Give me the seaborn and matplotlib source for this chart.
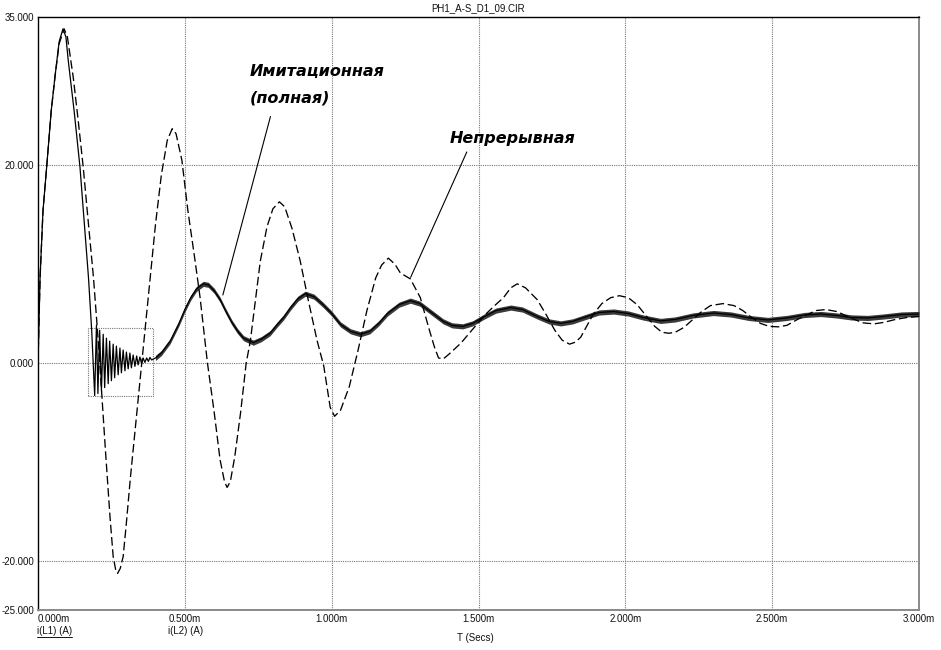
import numpy as np
import pandas as pd
import matplotlib
matplotlib.use("Agg")
import matplotlib.pyplot as plt
from matplotlib.lines import Line2D
from matplotlib.patches import Rectangle
import seaborn as sns

# ---------------- data (time in ms, current in A) ----------------
title = "PH1_A-S_D1_09.CIR"
x_ticks = [0.0, 0.5, 1.0, 1.5, 2.0, 2.5, 3.0]
x_tick_labels = ["0.000m", "0.500m", "1.000m", "1.500m", "2.000m", "2.500m", "3.000m"]
y_ticks = [-25, -20, 0, 20, 35]
y_tick_labels = ["-25.000", "-20.000", "0.000", "20.000", "35.000"]
series_names = ["i(L1) (A)", "i(L2) (A)"]
label_sim = "Имитационная\n(полная)"
label_cont = "Непрерывная"

# dashed curve "Непрерывная"
cont_t = [0.000, 0.007, 0.017, 0.030, 0.045, 0.058, 0.072, 0.089, 0.100, 0.120,
          0.137, 0.154, 0.172, 0.189, 0.206, 0.230, 0.245, 0.256, 0.265, 0.271,
          0.280, 0.290, 0.300, 0.315, 0.330, 0.345, 0.355, 0.380, 0.400, 0.420,
          0.440, 0.457, 0.470, 0.490, 0.510, 0.535, 0.552, 0.577, 0.600, 0.620,
          0.635, 0.644, 0.655, 0.670, 0.690, 0.709, 0.723, 0.757, 0.780, 0.800,
          0.822, 0.840, 0.865, 0.893, 0.920, 0.950, 0.973, 0.995, 1.010, 1.030,
          1.060, 1.090, 1.120, 1.150, 1.170, 1.193, 1.215, 1.234, 1.268, 1.302,
          1.330, 1.350, 1.364, 1.380, 1.400, 1.440, 1.480, 1.520, 1.555, 1.585,
          1.610, 1.632, 1.660, 1.700, 1.730, 1.760, 1.785, 1.810, 1.830, 1.848,
          1.870, 1.890, 1.920, 1.950, 1.980, 2.010, 2.040, 2.070, 2.100, 2.125,
          2.148, 2.170, 2.200, 2.230, 2.260, 2.290, 2.332, 2.370, 2.400, 2.430,
          2.460, 2.490, 2.520, 2.550, 2.580, 2.620, 2.650, 2.683, 2.720, 2.750,
          2.780, 2.810, 2.847, 2.880, 2.920, 2.960, 3.000]
cont_y = [0.0, 8.6, 15.4, 20.0, 25.5, 29.0, 32.3, 33.8, 33.0, 28.9,
          24.5, 19.8, 14.0, 8.6, 1.9, -9.0, -15.5, -19.6, -21.0, -21.3,
          -20.8, -19.6, -16.5, -11.5, -7.0, -2.5, 0.5, 8.0, 14.0, 19.0,
          22.5, 23.7, 23.2, 20.5, 15.5, 10.3, 6.6, 0.0, -5.0, -9.8,
          -12.0, -12.6, -12.0, -9.5, -5.0, 0.0, 2.2, 10.3, 13.8, 15.6,
          16.3, 15.8, 13.6, 10.3, 6.4, 2.3, -0.3, -4.5, -5.4, -4.8,
          -2.4, 1.3, 5.3, 8.6, 9.9, 10.6, 10.0, 9.1, 8.5, 6.6,
          3.6, 1.6, 0.5, 0.4, 0.9, 2.0, 3.4, 4.8, 5.8, 6.6,
          7.6, 8.0, 7.6, 6.4, 4.9, 3.3, 2.3, 1.9, 2.1, 2.6,
          3.8, 4.9, 6.0, 6.6, 6.8, 6.6, 5.9, 4.8, 3.7, 3.1,
          3.0, 3.1, 3.6, 4.4, 5.2, 5.8, 6.0, 5.8, 5.3, 4.6,
          4.0, 3.7, 3.65, 3.8, 4.3, 4.9, 5.3, 5.4, 5.2, 4.8,
          4.4, 4.05, 3.95, 4.1, 4.4, 4.6, 4.7]

# solid curve "Имитационная (полная)" - start, ringing, then centre line
sim_t = [0.000, 0.007, 0.017, 0.030, 0.045, 0.058, 0.072, 0.085, 0.095, 0.103,
         0.123, 0.143, 0.158, 0.172, 0.183, 0.193, 0.199, 0.204, 0.210, 0.216,
         0.222, 0.227, 0.233, 0.239, 0.244, 0.250, 0.256, 0.261, 0.267, 0.273,
         0.279, 0.284, 0.290, 0.296, 0.301, 0.307, 0.313, 0.318, 0.324, 0.330,
         0.336, 0.341, 0.347, 0.353, 0.358, 0.364, 0.370, 0.376, 0.381, 0.387,
         0.400, 0.420, 0.450, 0.480, 0.500, 0.520, 0.540, 0.563, 0.580, 0.600,
         0.620, 0.640, 0.660, 0.680, 0.700, 0.733, 0.760, 0.790, 0.815, 0.836,
         0.860, 0.885, 0.910, 0.940, 0.970, 1.000, 1.030, 1.064, 1.098, 1.130,
         1.160, 1.190, 1.230, 1.268, 1.300, 1.340, 1.380, 1.410, 1.446, 1.480,
         1.520, 1.560, 1.610, 1.650, 1.700, 1.740, 1.780, 1.820, 1.870, 1.910,
         1.960, 2.010, 2.060, 2.120, 2.170, 2.230, 2.300, 2.360, 2.420, 2.485,
         2.550, 2.610, 2.666, 2.720, 2.770, 2.826, 2.880, 2.940, 3.000]
sim_y = [0.0, 8.6, 15.4, 20.0, 25.5, 29.0, 32.5, 33.8, 33.0, 30.6,
         25.5, 19.8, 14.0, 8.6, 3.2, -3.3, 3.8, -3.1, 3.3, -2.8,
         2.9, -2.5, 2.5, -2.1, 2.2, -1.8, 1.9, -1.5, 1.7, -1.2,
         1.5, -1.0, 1.3, -0.8, 1.1, -0.6, 1.0, -0.5, 0.8, -0.35,
         0.7, -0.2, 0.6, -0.1, 0.5, 0.05, 0.5, 0.15, 0.55, 0.3,
         0.5, 1.0, 2.2, 4.0, 5.4, 6.6, 7.5, 8.0, 7.9, 7.3,
         6.4, 5.2, 4.1, 3.2, 2.5, 2.05, 2.4, 3.0, 3.9, 4.6,
         5.6, 6.5, 7.0, 6.7, 5.9, 5.0, 3.9, 3.2, 2.9, 3.2,
         4.0, 5.0, 5.9, 6.3, 6.0, 5.1, 4.2, 3.8, 3.7, 4.0,
         4.7, 5.3, 5.6, 5.4, 4.7, 4.2, 4.0, 4.2, 4.7, 5.1,
         5.2, 5.0, 4.6, 4.25, 4.4, 4.8, 5.05, 4.9, 4.55, 4.35,
         4.55, 4.85, 4.95, 4.8, 4.6, 4.55, 4.7, 4.9, 4.95]
ripple_half = 0.26        # half-height of the high-frequency ripple band
ripple_start = 0.39       # ms, where the ripple band begins

# zoom box around the ringing
box_t = [0.170, 0.392]
box_y = [-3.3, 3.5]

# leader lines (from label to curve)
lead_sim = [(0.794, 25.2), (0.627, 6.6)]
lead_cont = [(1.464, 21.6), (1.265, 8.4)]

# ---------------- figure ----------------
W, H = 941, 650
sns.set_theme(style="white")
plt.rcParams["font.family"] = ["Liberation Sans", "DejaVu Sans"]

fig = plt.figure(figsize=(W / 100, H / 100), dpi=100)
fig.patch.set_facecolor("white")
L, R, T, B = 38, 919, 17, 610
ax = fig.add_axes([L / W, 1 - B / H, (R - L) / W, (B - T) / H])
ax.set_facecolor("white")

df_cont = pd.DataFrame({"t": cont_t, "i": cont_y})
df_sim = pd.DataFrame({"t": sim_t, "i": sim_y})

# ripple band for the simulated curve
sim_arr_t = np.array(sim_t)
sim_arr_y = np.array(sim_y)
m = sim_arr_t >= ripple_start
ax.fill_between(sim_arr_t[m], sim_arr_y[m] - ripple_half, sim_arr_y[m] + ripple_half,
                color="#3a3a3a", lw=0, zorder=3)

sns.lineplot(data=df_sim, x="t", y="i", ax=ax, color="black", lw=0.9,
             estimator=None, sort=False, zorder=4)
sns.lineplot(data=df_cont, x="t", y="i", ax=ax, color="black", lw=0.95,
             estimator=None, sort=False, zorder=5)
ax.lines[-1].set_dashes([6.5, 2.8])

ax.set_xlim(x_ticks[0], x_ticks[-1])
ax.set_ylim(y_ticks[0], y_ticks[-1])
ax.set_xticks(x_ticks)
ax.set_yticks(y_ticks)
ax.set_xticklabels(x_tick_labels, fontsize=7, color="#111111")
ax.set_yticklabels(y_tick_labels, fontsize=7, color="#111111")
ax.tick_params(length=0, pad=3)
ax.get_xticklabels()[0].set_horizontalalignment("left")
ax.set_xlabel("")
ax.set_ylabel("")

# dotted grid on interior ticks
for xv in x_ticks[1:-1]:
    ax.axvline(xv, color="#777777", lw=0.8, ls=(0, (1, 1)), zorder=1)
for yv in y_ticks[1:-1]:
    ax.axhline(yv, color="#777777", lw=0.8, ls=(0, (1, 1)), zorder=1)

# frame
for side in ["top", "left"]:
    ax.spines[side].set_color("black")
    ax.spines[side].set_linewidth(1.0)
for side in ["bottom", "right"]:
    ax.spines[side].set_color("#8a8a8a")
    ax.spines[side].set_linewidth(1.4)

# zoom box
ax.add_patch(Rectangle((box_t[0], box_y[0]), box_t[1] - box_t[0], box_y[1] - box_y[0],
                       fill=False, ec="#777777", lw=0.8, ls=(0, (1, 1)), zorder=2))

# labels with leader lines
ann_font = dict(family="DejaVu Sans", weight="bold", style="italic", size=11.5, color="black")
ax.annotate("", xy=lead_sim[1], xytext=lead_sim[0],
            arrowprops=dict(arrowstyle="-", lw=0.8, color="black"))
ax.annotate("", xy=lead_cont[1], xytext=lead_cont[0],
            arrowprops=dict(arrowstyle="-", lw=0.8, color="black"))
fig.text(250 / W, 1 - 72 / H, label_sim.split("\n")[0], ha="left", va="center", **ann_font)
fig.text(250 / W, 1 - 98 / H, label_sim.split("\n")[1], ha="left", va="center", **ann_font)
fig.text(450 / W, 1 - 138 / H, label_cont, ha="left", va="center", **ann_font)

# title & axis texts
fig.text(478 / W, 1 - 8 / H, title, ha="center", va="center", fontsize=7, color="#111111")
fig.text(475 / W, 1 - 638 / H, "T (Secs)", ha="center", va="center", fontsize=7, color="#111111")
name_texts = []
for xpix, name in zip([37, 168], series_names):
    name_texts.append(fig.text(xpix / W, 1 - 631 / H, name, ha="left", va="center",
                               fontsize=7, color="#111111"))
fig.canvas.draw()
# underline first series name
bb = name_texts[0].get_window_extent()
fig.add_artist(Line2D([bb.x0 / W, bb.x1 / W], [(bb.y0 - 1) / H, (bb.y0 - 1) / H],
                      color="#111111", lw=0.7))

fig.savefig("out.png", dpi=100)
